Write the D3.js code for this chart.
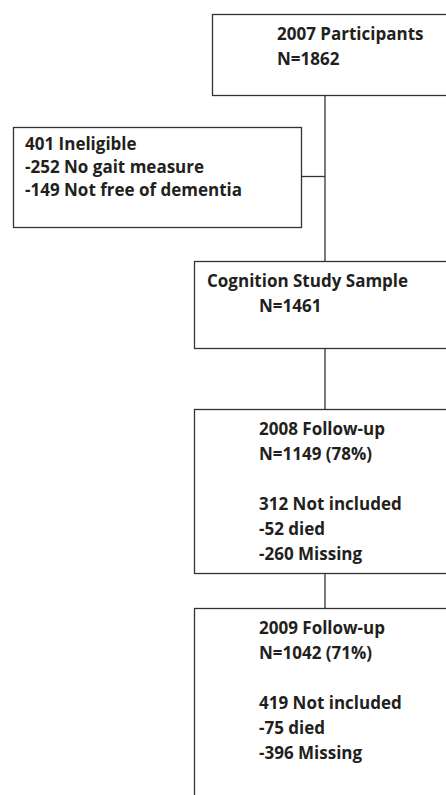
<!DOCTYPE html>
<html>
<head>
<meta charset="utf-8">
<script src="https://cdn.jsdelivr.net/npm/d3@7"></script>
<style>
  html, body { margin: 0; padding: 0; background: #fff; }
  svg { display: block; }
</style>
</head>
<body>
<svg id="chart"></svg>
<script>
// flow data
const stages = ["2007 Participants", "Cognition Study Sample", "2008 Follow-up", "2009 Follow-up"];
const stageN = [1862, 1461, 1149, 1042];
const retention = [null, null, 78, 71];
const notIncluded = [null, null, 312, 419];
const died = [null, null, 52, 75];
const missing = [null, null, 260, 396];
const ineligible = 401;
const ineligibleReasons = ["No gait measure", "Not free of dementia"];
const ineligibleCounts = [252, 149];

const W = 446, H = 795;
const svg = d3.select('#chart').attr('width', W).attr('height', H);

// box geometry (right edges run off the page, as in the original)
const boxes = [
  { x: 212, y: 14, h: 81, tx: [277, 277] },
  { x: 194, y: 261, h: 87, tx: [207, 259] },
  { x: 194, y: 409, h: 164, tx: [259] },
  { x: 194, y: 608, h: 200, tx: [259] }
];
const trunkX = 325;
const lineH = 25;
const stroke = '#333';
const ink = '#231f20';
const font = '"Open Sans", Lato, sans-serif';
const fontSize = '17px';

function stageLines(i) {
  const l = [stages[i], 'N=' + stageN[i] + (retention[i] != null ? ' (' + retention[i] + '%)' : '')];
  if (notIncluded[i] != null) {
    l.push('', notIncluded[i] + ' Not included', '-' + died[i] + ' died', '-' + missing[i] + ' Missing');
  }
  return l;
}

// connectors
for (let i = 0; i < boxes.length - 1; i++) {
  svg.append('line')
    .attr('x1', trunkX).attr('x2', trunkX)
    .attr('y1', boxes[i].y + boxes[i].h).attr('y2', boxes[i + 1].y)
    .attr('stroke', stroke).attr('stroke-width', 1.3);
}

const g = svg.selectAll('g.stage')
  .data(boxes)
  .enter().append('g').attr('class', 'stage');

g.append('rect')
  .attr('x', d => d.x + 0.5)
  .attr('y', d => d.y + 0.5)
  .attr('width', d => W + 20 - d.x)
  .attr('height', d => d.h)
  .attr('fill', 'none')
  .attr('stroke', stroke)
  .attr('stroke-width', 1.3);

g.each(function(d, i) {
  d3.select(this).selectAll('text')
    .data(stageLines(i))
    .enter().append('text')
    .attr('x', (t, j) => d.tx[Math.min(j, d.tx.length - 1)])
    .attr('y', (t, j) => d.y + 26 + j * lineH)
    .attr('fill', ink)
    .style('font-family', font)
    .style('font-weight', 700)
    .style('font-size', fontSize)
    .text(t => t);
});

// ineligible side box
const side = { x: 13, y: 127, w: 288, h: 100 };
svg.append('line')
  .attr('x1', side.x + side.w).attr('x2', trunkX)
  .attr('y1', 176.5).attr('y2', 176.5)
  .attr('stroke', stroke).attr('stroke-width', 1.3);
svg.append('rect')
  .attr('x', side.x + 0.5).attr('y', side.y + 0.5)
  .attr('width', side.w).attr('height', side.h)
  .attr('fill', '#fff').attr('stroke', stroke).attr('stroke-width', 1.3);

const sideLines = [ineligible + ' Ineligible'].concat(ineligibleReasons.map((r, i) => '-' + ineligibleCounts[i] + ' ' + r));
svg.selectAll('text.side')
  .data(sideLines)
  .enter().append('text')
  .attr('class', 'side')
  .attr('x', 25)
  .attr('y', (t, j) => 150 + j * 23)
  .attr('fill', ink)
  .style('font-family', font)
  .style('font-weight', 700)
  .style('font-size', fontSize)
  .text(t => t);
</script>
</body>
</html>
